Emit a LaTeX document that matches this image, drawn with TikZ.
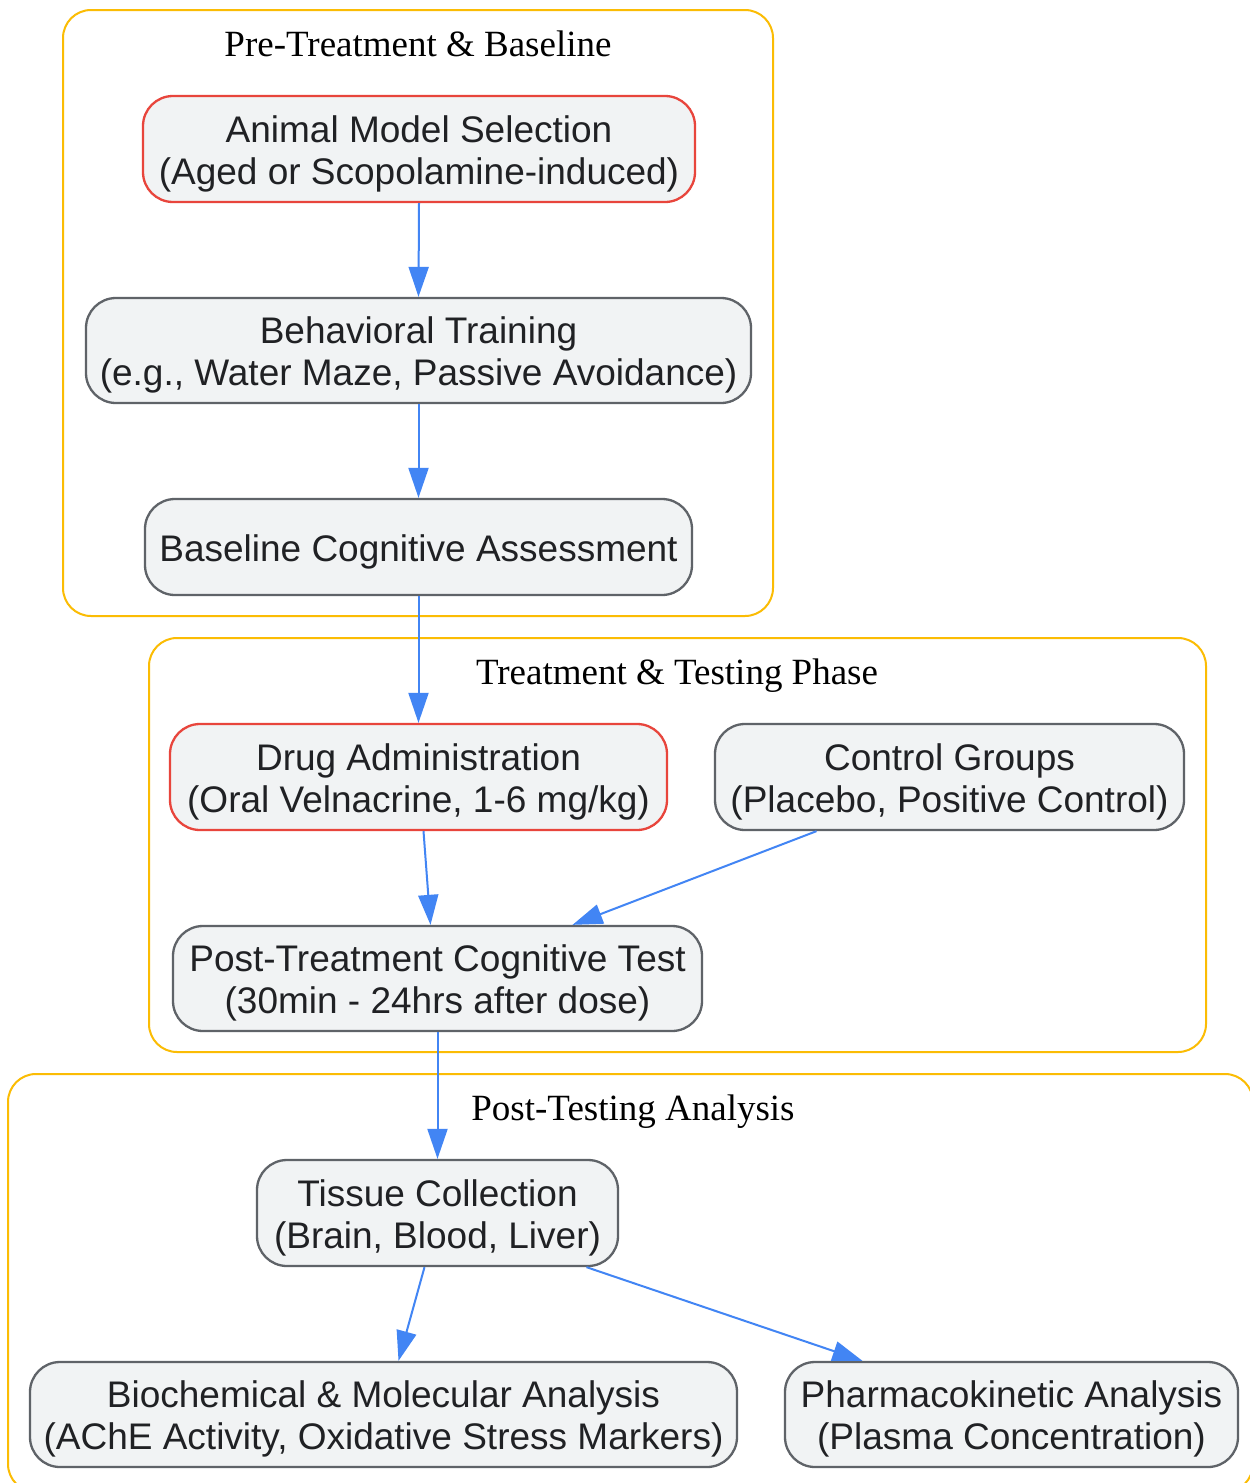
\documentclass[tikz,border=0pt]{standalone}
\usepackage{fontspec}
\setmainfont{Liberation Serif}
\newfontfamily\nodesans{Liberation Sans}
\usetikzlibrary{arrows.meta,calc}
\definecolor{edgeblue}{HTML}{4285F4}
\definecolor{nodered}{HTML}{E8453C}
\definecolor{nodegray}{HTML}{5F6368}
\definecolor{nodefill}{HTML}{F1F3F4}
\definecolor{clusteryellow}{HTML}{FBBC04}
\definecolor{textdark}{HTML}{202124}
\newcommand{\T}{\rule{0pt}{36pt}}
\newcommand{\B}{\rule[-6pt]{0pt}{6pt}}
\tikzset{
  stepbox/.style={draw=nodegray, line width=2.3pt, fill=nodefill, rounded corners=30pt,
    inner sep=0pt, align=center, text=textdark,
    font=\nodesans\fontsize{37}{42}\selectfont},
  keybox/.style={stepbox, draw=nodered},
  cluster/.style={draw=clusteryellow, line width=2pt, rounded corners=28pt},
  clustertitle/.style={font=\fontsize{37}{42}\selectfont, text=black, inner sep=0pt, anchor=base},
  edge/.style={draw=edgeblue, line width=2pt, -{Triangle[length=30pt,width=20pt]}}
}
\begin{document}
\begin{tikzpicture}[x=1pt,y=-1pt]
\clip (0,0) rectangle (1250,1483);
\fill[white] (0,0) rectangle (1250,1483);
% clusters
\draw[cluster] (63,10) rectangle (773,616);
\draw[cluster] (149,638) rectangle (1206,1052);
\draw[cluster] (8,1074) rectangle (1253,1492);
\node[clustertitle] (t1) at (418,56) {Pre-Treatment \& Baseline};
\node[clustertitle] (t2) at (677,684) {Treatment \& Testing Phase};
\node[clustertitle] (t3) at (633,1120) {Post-Testing Analysis};
% nodes
\node[keybox, minimum width=552pt, minimum height=106pt] (A) at (419,149) {\T Animal Model Selection\\(Aged or Scopolamine-induced)\B};
\node[stepbox, minimum width=665pt, minimum height=105pt] (B) at (418.5,350.5) {\T Behavioral Training\\(e.g., Water Maze, Passive Avoidance)\B};
\node[stepbox, minimum width=547pt, minimum height=96pt] (C) at (418.5,547) {\T Baseline Cognitive Assessment\B};
\node[keybox, minimum width=497pt, minimum height=106pt] (D) at (418.5,777) {\T Drug Administration\\(Oral Velnacrine, 1-6 mg/kg)\B};
\node[stepbox, minimum width=469pt, minimum height=106pt] (E) at (949.5,777) {\T Control Groups\\(Placebo, Positive Control)\B};
\node[stepbox, minimum width=529pt, minimum height=105pt] (F) at (437.5,978.5) {\T Post-Treatment Cognitive Test\\(30min - 24hrs after dose)\B};
\node[stepbox, minimum width=361pt, minimum height=106pt] (G) at (437.5,1213) {\T Tissue Collection\\(Brain, Blood, Liver)\B};
\node[stepbox, minimum width=707pt, minimum height=105pt] (H) at (383.5,1414.5) {\T Biochemical \& Molecular Analysis\\(AChE Activity, Oxidative Stress Markers)\B};
\node[stepbox, minimum width=453pt, minimum height=105pt] (I) at (1011.5,1414.5) {\T Pharmacokinetic Analysis\\(Plasma Concentration)\B};
% edges
\draw[edge] (A.south) -- (B.north);
\draw[edge] (B.south) -- (C.north);
\draw[edge] (C.south) -- (D.north);
\draw[edge] ([xshift=5pt]D.south) -- ([xshift=-7pt]F.north);
\draw[edge] ([xshift=-133pt]E.south) -- ([xshift=135pt]F.north);
\draw[edge] (F.south) -- (G.north);
\draw[edge] ([xshift=-13pt]G.south) -- ([xshift=15pt]H.north);
\draw[edge] ([xshift=149pt]G.south) -- ([xshift=-149pt]I.north);
\end{tikzpicture}
\end{document}
